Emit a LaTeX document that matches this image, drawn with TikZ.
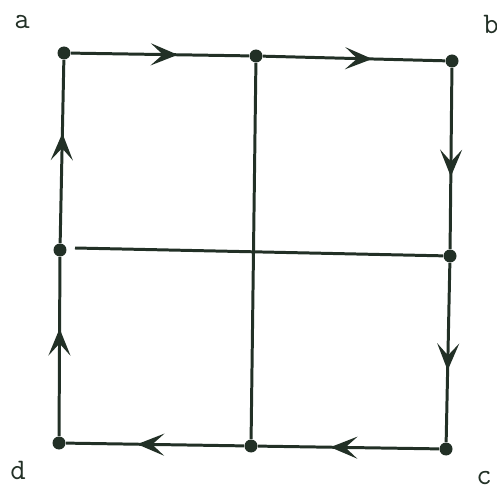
\documentclass[tikz,border=0pt]{standalone}
\usepackage{xcolor}
\usetikzlibrary{arrows.meta,decorations.markings}
\definecolor{ink}{RGB}{34,48,38}
\begin{document}
\begin{tikzpicture}[x=0.02cm,y=-0.02cm,
 every node/.style={font=\ttfamily\fontsize{17}{19}\selectfont,text=ink},
 dot/.style={circle,fill=ink,inner sep=0pt,minimum size=0.26cm},
 edge/.style={draw=ink,line width=1.7pt},
 flow/.style={edge,postaction={decorate},decoration={markings,
   mark=at position 0.6 with {\arrow{Stealth[length=5.4mm,width=4.4mm,inset=2.4mm]}}}}]
\useasboundingbox (0,0) rectangle (497,493);
\node[dot] (a) at (64,53) {};
\node[dot] (b) at (452,61) {};
\node[dot] (c) at (446,449) {};
\node[dot] (d) at (59,443) {};
\node[dot] (top) at (256,56) {};
\node[dot] (bottom) at (251,446) {};
\node[dot] (left) at (60,250) {};
\node[dot] (right) at (450,256) {};
\coordinate (hstart) at (75,248);
\node (la) at (22,22) {a};
\node (lb) at (491,24) {b};
\node (lc) at (484,478) {c};
\node (ld) at (18,470) {d};
\draw[flow] (a) -- (top);
\draw[flow] (top) -- (b);
\draw[flow] (b) -- (right);
\draw[flow] (right) -- (c);
\draw[flow] (c) -- (bottom);
\draw[flow] (bottom) -- (d);
\draw[flow] (d) -- (left);
\draw[flow] (left) -- (a);
\draw[edge] (top) -- (bottom);
\draw[edge] (hstart) -- (right);
\end{tikzpicture}
\end{document}
